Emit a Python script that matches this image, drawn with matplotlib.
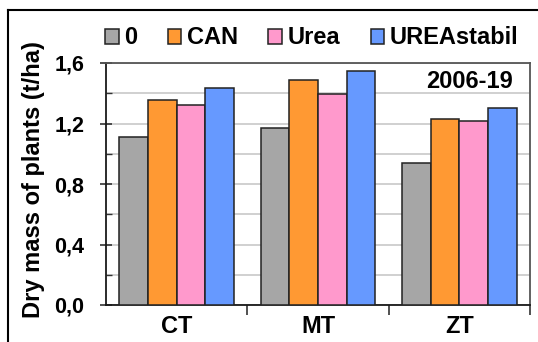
import matplotlib
matplotlib.use("Agg")
import matplotlib.pyplot as plt
import numpy as np
from matplotlib.ticker import MultipleLocator, FixedLocator
from matplotlib.lines import Line2D

plt.rcParams['font.family'] = ['Liberation Sans', 'DejaVu Sans']
plt.rcParams['font.weight'] = 'bold'

categories = ["CT", "MT", "ZT"]
series_names = ["0", "CAN", "Urea", "UREAstabil"]
val_0 = [1.11, 1.17, 0.94]
val_can = [1.355, 1.49, 1.23]
val_urea = [1.325, 1.395, 1.215]
val_ureastabil = [1.435, 1.55, 1.305]
colors = ["#a6a6a6", "#ff9933", "#ff99cc", "#6699ff"]
yticks = [0.0, 0.4, 0.8, 1.2, 1.6]
ytick_labels = ["0,0", "0,4", "0,8", "1,2", "1,6"]

W, H = 538, 342
fig = plt.figure(figsize=(W / 100, H / 100), dpi=100)
ax = fig.add_axes([106 / W, (H - 305) / H, (530 - 106) / W, (305 - 63) / H])

x = np.arange(len(categories))
bw = 0.203
series = [val_0, val_can, val_urea, val_ureastabil]
handles = []
for i, (vals, c, name) in enumerate(zip(series, colors, series_names)):
    b = ax.bar(x + (i - 1.5) * bw, vals, bw, color=c, edgecolor="#222222",
               linewidth=1.1, label=name, zorder=3)
    handles.append(b)

ax.set_xlim(-0.5, 2.5)
ax.set_ylim(0, 1.6)
ax.yaxis.set_major_locator(FixedLocator(yticks))
ax.set_yticklabels(ytick_labels)
ax.yaxis.set_minor_locator(MultipleLocator(0.2))
ax.grid(axis="y", which="both", color="#c8c8c8", linewidth=1.2, zorder=0)
ax.set_xticks(x)
ax.set_xticklabels(categories)
ax.xaxis.set_minor_locator(FixedLocator([0.5, 1.5, 2.5]))

ax.tick_params(axis="x", which="major", length=0, labelsize=17, pad=7)
ax.tick_params(axis="x", which="minor", length=7, width=1.2, direction="out", color="#333333")
ax.tick_params(axis="y", which="major", length=9, width=1.2, direction="inout",
               labelsize=15.5, pad=11, color="#333333")
ax.tick_params(axis="y", which="minor", length=4, width=1, direction="in", color="#333333")

for s in ["left", "bottom"]:
    ax.spines[s].set_color("#1a1a1a")
    ax.spines[s].set_linewidth(1.3)
for s in ["top", "right"]:
    ax.spines[s].set_color("#555555")
    ax.spines[s].set_linewidth(1.3)

ax.set_ylabel("Dry mass of plants (t/ha)", fontsize=17, fontweight="bold")
ax.yaxis.set_label_coords((45 - 106) / 424, (305 - 180) / 242)

ax.text((513 - 106) / 424, (305 - 82) / 242, "2006-19", transform=ax.transAxes,
        ha="right", va="center", fontsize=17, fontweight="bold", zorder=5)

leg = fig.legend(handles=handles, labels=series_names, loc="center left",
                 bbox_to_anchor=(105 / W, 1 - 38 / H), ncol=4, frameon=False,
                 fontsize=17, handlelength=0.58, handleheight=0.58,
                 handletextpad=0.22, columnspacing=1.3, borderaxespad=0,
                 borderpad=0)

# outer frame (top and left lines)
fig.add_artist(Line2D([8 / W, 8 / W], [0, 1 - 10 / H], transform=fig.transFigure,
                      color="black", linewidth=1.5))
fig.add_artist(Line2D([8 / W, 1], [1 - 10 / H, 1 - 10 / H], transform=fig.transFigure,
                      color="black", linewidth=1.5))

fig.savefig("out.png", dpi=100)
